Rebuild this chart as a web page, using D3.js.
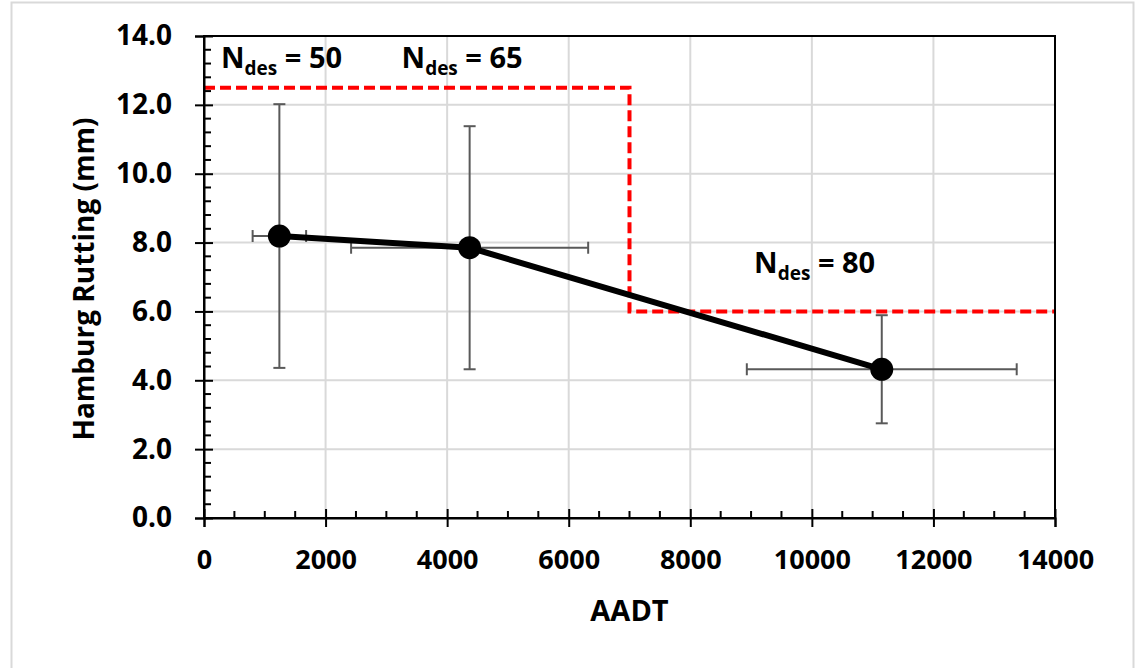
<!DOCTYPE html>
<html>
<head>
<meta charset="utf-8">
<script src="https://cdn.jsdelivr.net/npm/d3@7"></script>
<style>
  html, body { margin: 0; padding: 0; background: #fff; }
  svg { display: block; font-family: "Open Sans", Lato, sans-serif; }
</style>
</head>
<body>
<svg id="chart" width="1138" height="668"></svg>
<script>
// ---- data ----
const aadt        = [1240, 4370, 11150];
const rutting     = [8.19, 7.85, 4.32];
const aadtErr     = [440, 1950, 2220];
const ruttingErr  = [3.83, 3.53, 1.57];

const criterionAadt = [0, 7000, 7000, 14000];
const criterionRut  = [12.5, 12.5, 6.0, 6.0];

const ndesValues = ["50", "65", "80"];

const xTickValues = [0, 2000, 4000, 6000, 8000, 10000, 12000, 14000];
const yTickValues = [0, 2, 4, 6, 8, 10, 12, 14];
const xTitle = "AADT";
const yTitle = "Hamburg Rutting (mm)";

// ---- layout ----
(function () {
const FONT = "'Open Sans', Lato, sans-serif";
const svg = d3.select("#chart");
const pL = 204, pR = 1055, pT = 36, pB = 518;

const x = d3.scaleLinear().domain([0, 14000]).range([pL, pR]);
const y = d3.scaleLinear().domain([0, 14]).range([pB, pT]);

// outer border
svg.append("rect")
  .attr("x", 11.5).attr("y", 2.5)
  .attr("width", 1122).attr("height", 700)
  .attr("fill", "#fff").attr("stroke", "#d9d9d9").attr("stroke-width", 2);

// gridlines
const grid = svg.append("g");
grid.selectAll("line.gx").data(xTickValues.slice(1, -1)).join("line")
  .attr("x1", d => x(d)).attr("x2", d => x(d))
  .attr("y1", pT).attr("y2", pB)
  .attr("stroke", "#d9d9d9").attr("stroke-width", 2);
grid.selectAll("line.gy").data(yTickValues.slice(1, -1)).join("line")
  .attr("x1", pL).attr("x2", pR)
  .attr("y1", d => y(d)).attr("y2", d => y(d))
  .attr("stroke", "#d9d9d9").attr("stroke-width", 2);

// criterion line (red dashed)
const crit = criterionAadt.map((a, i) => [a, criterionRut[i]]);
svg.append("path")
  .attr("d", d3.line().x(d => x(d[0])).y(d => y(d[1]))(crit))
  .attr("fill", "none").attr("stroke", "#ff0000")
  .attr("stroke-width", 4).attr("stroke-dasharray", "11,5");

// error bars
const pts = aadt.map((a, i) => ({ a, r: rutting[i], ea: aadtErr[i], er: ruttingErr[i] }));
const eb = svg.append("g").attr("stroke", "#595959").attr("stroke-width", 2);
const cap = 6;
pts.forEach(p => {
  eb.append("line").attr("x1", x(p.a - p.ea)).attr("x2", x(p.a + p.ea)).attr("y1", y(p.r)).attr("y2", y(p.r));
  eb.append("line").attr("x1", x(p.a - p.ea)).attr("x2", x(p.a - p.ea)).attr("y1", y(p.r) - cap).attr("y2", y(p.r) + cap);
  eb.append("line").attr("x1", x(p.a + p.ea)).attr("x2", x(p.a + p.ea)).attr("y1", y(p.r) - cap).attr("y2", y(p.r) + cap);
  eb.append("line").attr("x1", x(p.a)).attr("x2", x(p.a)).attr("y1", y(p.r - p.er)).attr("y2", y(p.r + p.er));
  eb.append("line").attr("x1", x(p.a) - cap).attr("x2", x(p.a) + cap).attr("y1", y(p.r - p.er)).attr("y2", y(p.r - p.er));
  eb.append("line").attr("x1", x(p.a) - cap).attr("x2", x(p.a) + cap).attr("y1", y(p.r + p.er)).attr("y2", y(p.r + p.er));
});

// series line
svg.append("path")
  .attr("d", d3.line().x(d => x(d.a)).y(d => y(d.r))(pts))
  .attr("fill", "none").attr("stroke", "#000").attr("stroke-width", 6)
  .attr("stroke-linejoin", "round");

svg.append("g").selectAll("circle").data(pts).join("circle")
  .attr("cx", d => x(d.a)).attr("cy", d => y(d.r)).attr("r", 11.5)
  .attr("fill", "#000");

// plot frame
svg.append("rect")
  .attr("x", pL).attr("y", pT)
  .attr("width", pR - pL).attr("height", pB - pT)
  .attr("fill", "none").attr("stroke", "#000").attr("stroke-width", 2);

// axes
const xMinor = d3.range(0, 14001, 500).filter(v => v % 2000 !== 0);
const yMinor = d3.range(0, 36).map(v => v * 0.4).filter((v, i) => i % 5 !== 0);

const xAxisG = svg.append("g").attr("transform", `translate(0,${pB})`)
  .call(d3.axisBottom(x).tickValues(xTickValues).tickSize(9).tickPadding(23).tickFormat(d3.format("d")));
xAxisG.select(".domain").attr("stroke", "#000").attr("stroke-width", 2);
xAxisG.selectAll(".tick line").attr("stroke", "#000").attr("stroke-width", 2).attr("y1", -9);
xAxisG.selectAll(".tick text").attr("font-family", FONT)
  .attr("font-size", 27).attr("font-weight", "bold").attr("fill", "#000");

const yAxisG = svg.append("g").attr("transform", `translate(${pL},0)`)
  .call(d3.axisLeft(y).tickValues(yTickValues).tickSize(9).tickPadding(23).tickFormat(d3.format(".1f")));
yAxisG.select(".domain").attr("stroke", "#000").attr("stroke-width", 2);
yAxisG.selectAll(".tick line").attr("stroke", "#000").attr("stroke-width", 2).attr("x1", 9);
yAxisG.selectAll(".tick text").attr("font-family", FONT)
  .attr("font-size", 28).attr("font-weight", "bold").attr("fill", "#000");

// minor ticks (inside)
svg.append("g").selectAll("line").data(xMinor).join("line")
  .attr("x1", d => x(d)).attr("x2", d => x(d)).attr("y1", pB).attr("y2", pB - 7)
  .attr("stroke", "#000").attr("stroke-width", 2);
svg.append("g").selectAll("line").data(yMinor).join("line")
  .attr("x1", pL).attr("x2", pL + 7).attr("y1", d => y(d)).attr("y2", d => y(d))
  .attr("stroke", "#000").attr("stroke-width", 2);

// axis titles
svg.append("text")
  .attr("x", (pL + pR) / 2 + 0).attr("y", 621)
  .attr("text-anchor", "middle").attr("font-size", 29).attr("font-weight", "bold")
  .text(xTitle);
svg.append("text")
  .attr("transform", `translate(94,${(pT + pB) / 2 + 2}) rotate(-90)`)
  .attr("text-anchor", "middle").attr("font-size", 28).attr("font-weight", "bold")
  .text(yTitle);

// N_des annotations (anchored in data space)
const annoAnchors = [[280, 13.07], [3250, 13.07], [9050, 7.12]];
ndesValues.forEach((v, i) => {
  const t = svg.append("text")
    .attr("x", x(annoAnchors[i][0])).attr("y", y(annoAnchors[i][1]))
    .attr("font-size", 29).attr("font-weight", "bold").attr("fill", "#000");
  t.append("tspan").text("N");
  t.append("tspan").attr("dy", 7).attr("font-size", 19).text("des");
  t.append("tspan").attr("dy", -7).text(" = " + v);
});
})();
</script>
</body>
</html>
